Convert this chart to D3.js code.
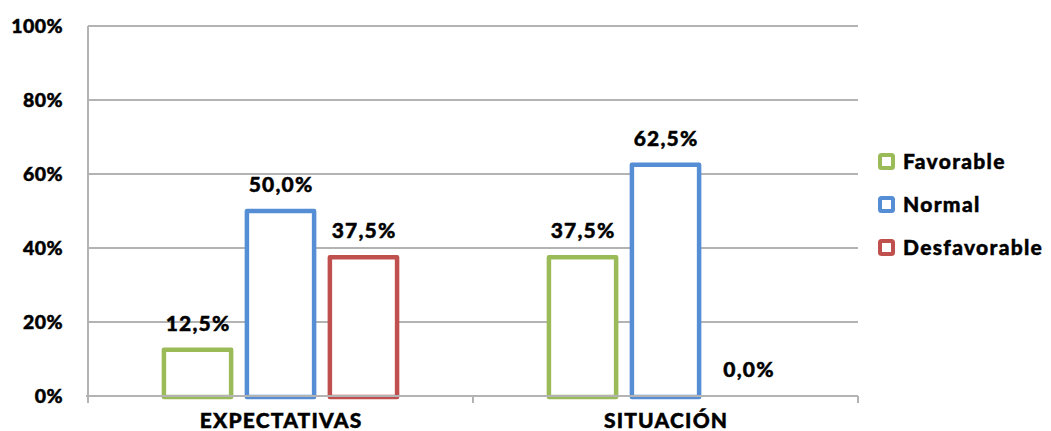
<!DOCTYPE html>
<html>
<head>
<meta charset="utf-8">
<script src="https://cdn.jsdelivr.net/npm/d3@7"></script>
<style>
  html, body { margin: 0; padding: 0; background: #fff; }
  svg { display: block; }
  text { font-family: Lato, "Open Sans", sans-serif; font-weight: 900; fill: #000; stroke: #000; stroke-width: 0.45px; }
</style>
</head>
<body>
<svg id="chart" width="1051" height="431"></svg>
<script>
const categories = ["EXPECTATIVAS", "SITUACIÓN"];
const seriesNames = ["Favorable", "Normal", "Desfavorable"];
const favorable = [12.5, 37.5];
const normal = [50.0, 62.5];
const desfavorable = [37.5, 0.0];
const yTicks = [0, 20, 40, 60, 80, 100];
const colors = ["#9bbb59", "#558ed5", "#c0504d"];

const seriesValues = [favorable, normal, desfavorable];

const svg = d3.select("#chart");
const mLeft = 88, mRight = 858, mTop = 26, mBottom = 396;

const x0 = d3.scaleBand().domain(categories).range([mLeft, mRight]).paddingInner(0).paddingOuter(0);
const x1 = d3.scaleBand().domain(seriesNames).range([0, x0.bandwidth()]).paddingInner(0.19).paddingOuter(0.915);
const y = d3.scaleLinear().domain([0, 100]).range([mBottom, mTop]);

// gridlines
svg.append("g").selectAll("line").data(yTicks.filter(d => d > 0)).join("line")
  .attr("x1", mLeft).attr("x2", mRight)
  .attr("y1", d => y(d)).attr("y2", d => y(d))
  .attr("stroke", "#b3b3b3").attr("stroke-width", 2);

// y axis
const yAxis = svg.append("g").attr("transform", `translate(${mLeft},0)`)
  .call(d3.axisLeft(y).tickValues(yTicks).tickSize(0).tickPadding(25).tickFormat(d => d + "%"));
yAxis.select(".domain").remove();
yAxis.selectAll("text").style("font-size", "19.5px").style("letter-spacing", "0.4px").attr("dy", "0.35em");
svg.append("line").attr("x1", mLeft).attr("x2", mLeft).attr("y1", mTop).attr("y2", mBottom + 7)
  .attr("stroke", "#b3b3b3").attr("stroke-width", 2);

// bars
const groups = svg.append("g").selectAll("g").data(categories).join("g")
  .attr("transform", d => `translate(${x0(d)},0)`);

groups.selectAll("rect").data((c, ci) => seriesNames.map((s, si) => ({s, si, v: seriesValues[si][ci]})))
  .join("rect")
  .filter(d => d.v > 0)
  .attr("x", d => x1(d.s))
  .attr("width", x1.bandwidth())
  .attr("y", d => y(d.v))
  .attr("height", d => y(0) - y(d.v) + 1)
  .attr("fill", "#fff")
  .attr("stroke", d => colors[d.si])
  .attr("stroke-width", 4.5)
  .attr("stroke-linejoin", "round");

// x axis
svg.append("line").attr("x1", mLeft - 2).attr("x2", mRight).attr("y1", mBottom).attr("y2", mBottom)
  .attr("stroke", "#b3b3b3").attr("stroke-width", 2);
const xTickPos = [mLeft, ...categories.map(c => x0(c) + x0.bandwidth())];
svg.append("g").selectAll("line").data(xTickPos).join("line")
  .attr("x1", d => d).attr("x2", d => d).attr("y1", mBottom).attr("y2", mBottom + 7)
  .attr("stroke", "#b3b3b3").attr("stroke-width", 2);

svg.append("g").selectAll("text").data(categories).join("text")
  .attr("x", d => x0(d) + x0.bandwidth() / 2 + 0.6)
  .attr("y", 428)
  .attr("text-anchor", "middle")
  .style("font-size", "21px")
  .style("letter-spacing", "1.2px")
  .text(d => d);

// value labels
groups.selectAll("text.val").data((c, ci) => seriesNames.map((s, si) => ({s, si, v: seriesValues[si][ci]})))
  .join("text").attr("class", "val")
  .attr("x", d => x1(d.s) + x1.bandwidth() / 2 + 0.6)
  .attr("y", d => y(d.v) - 19)
  .attr("text-anchor", "middle")
  .style("font-size", "21px")
  .style("letter-spacing", "1.2px")
  .text(d => d.v.toFixed(1).replace(".", ",") + "%");

// legend
const legend = svg.append("g").selectAll("g").data(seriesNames).join("g")
  .attr("transform", (d, i) => `translate(880, ${155 + i * 43})`);
legend.append("rect").attr("x", 0).attr("y", 0).attr("width", 13).attr("height", 13)
  .attr("rx", 1.5)
  .attr("fill", "#fff").attr("stroke", (d, i) => colors[i]).attr("stroke-width", 4);
legend.append("text").attr("x", 23).attr("y", 14)
  .style("font-size", "21px").style("letter-spacing", "1.3px").text(d => d);
</script>
</body>
</html>
